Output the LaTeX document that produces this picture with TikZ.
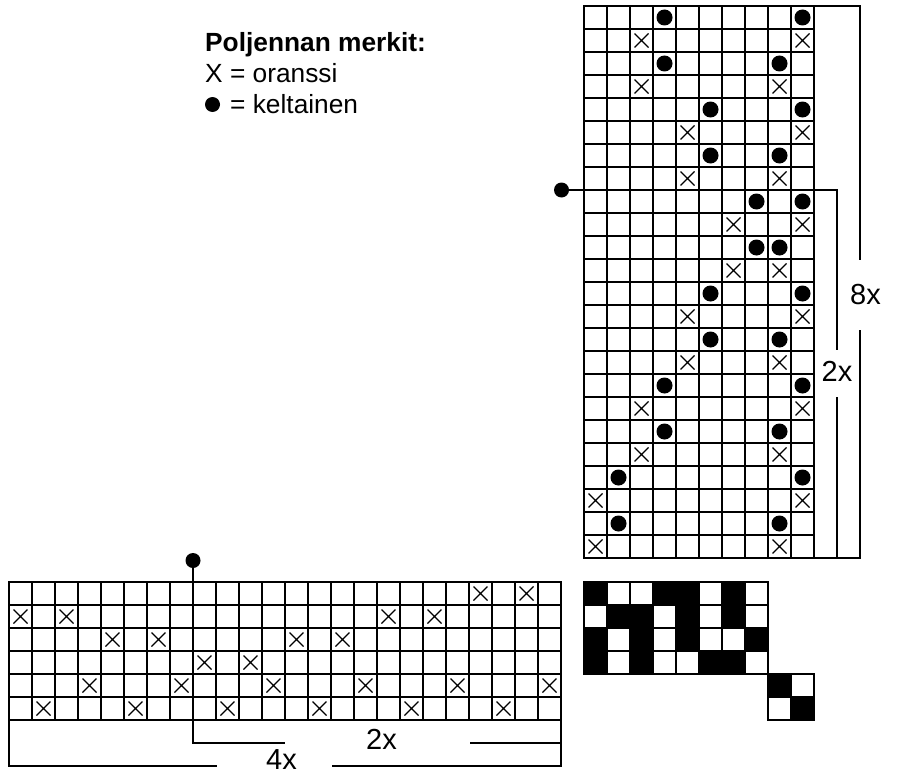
\documentclass[tikz,border=0pt]{standalone}
\usepackage{fontspec}
\setmainfont{Liberation Sans}
\usetikzlibrary{calc}
\tikzset{
    gridline/.style={line width=1.3pt},
    frameline/.style={line width=1.7pt},
    crossline/.style={line width=1.1pt},
    bracket/.style={line width=1.4pt},
    bigdot/.style={circle, fill=black, inner sep=0pt, minimum size=15pt},
    legend/.style={inner sep=0pt, anchor=base west, font=\fontsize{26.3}{30}\selectfont},
    repeatlabel/.style={inner sep=0pt, font=\fontsize{29}{34}\selectfont}
}
\newcommand{\weavegrid}[4]{% x0, y0, columns, rows
    \foreach \i in {0,...,#3} {
        \draw[gridline] ({#1+23*\i}, #2) -- ({#1+23*\i}, {#2+23*#4});
    }
    \foreach \j in {0,...,#4} {
        \draw[gridline] (#1, {#2+23*\j}) -- ({#1+23*#3}, {#2+23*\j});
    }
    \draw[frameline] (#1, #2) rectangle ({#1+23*#3}, {#2+23*#4});
}
\newcommand{\crossmark}[4]{% x0, y0, column, row
    \draw[crossline] ({#1+23*#3-18.5}, {#2+23*#4-18.5}) -- ++(14,14) ++(0,-14) -- ++(-14,14);
}
\newcommand{\dotmark}[4]{% x0, y0, column, row
    \fill ({#1+23*#3-11.5}, {#2+23*#4-11.5}) circle (8pt);
}

\begin{document}
\begin{tikzpicture}[x=1pt, y=-1pt]
    \useasboundingbox (0,0) rectangle (897,776);

    % Legend
    \node[legend, font=\fontsize{26.3}{30}\selectfont\bfseries] (legendtitle) at (205,52) {Poljennan merkit:};
    \node[legend] (legendx) at (205,83) {X = oranssi};
    \node[bigdot] (legenddot) at (212.5,104.5) {};
    \node[legend] (legendy) at (230,113) {= keltainen};

    % Threading grid (right)
    \weavegrid{584}{6}{10}{24}
    \foreach \c/\r in {4/1,10/1,4/3,9/3,6/5,10/5,6/7,9/7,8/9,10/9,8/11,9/11,
                       6/13,10/13,6/15,9/15,4/17,10/17,4/19,9/19,2/21,10/21,2/23,9/23} {
        \dotmark{584}{6}{\c}{\r}
    }
    \foreach \c/\r in {3/2,10/2,3/4,9/4,5/6,10/6,5/8,9/8,7/10,10/10,7/12,9/12,
                       5/14,10/14,5/16,9/16,3/18,10/18,3/20,9/20,1/22,10/22,1/24,9/24} {
        \crossmark{584}{6}{\c}{\r}
    }

    % Treadling grid (bottom)
    \weavegrid{9}{582}{24}{6}
    \foreach \c/\r in {21/1,23/1,1/2,3/2,17/2,19/2,5/3,7/3,13/3,15/3,9/4,11/4,
                       4/5,8/5,12/5,16/5,20/5,24/5,2/6,6/6,10/6,14/6,18/6,22/6} {
        \crossmark{9}{582}{\c}{\r}
    }

    % Tie-up
    \foreach \c/\r in {1/1,4/1,5/1,7/1,2/2,3/2,5/2,7/2,1/3,3/3,5/3,8/3,1/4,3/4,6/4,7/4,9/5,10/6} {
        \fill ({584+23*(\c-1)}, {582+23*(\r-1)}) rectangle ++(23,23);
    }
    \weavegrid{584}{582}{8}{4}
    \weavegrid{768}{674}{2}{2}

    % Repeat brackets, right
    \coordinate (r8a) at (814,6);
    \coordinate (r8b) at (860,260);
    \coordinate (r8c) at (860,330);
    \coordinate (r8d) at (814,558);
    \draw[bracket] (r8a) -| (r8b);
    \draw[bracket] (r8c) |- (r8d);
    \node[repeatlabel] (eightx) at (865.5,295) {8x};

    \node[bigdot] (dotright) at (561.5,190) {};
    \coordinate (r2a) at (837,350);
    \coordinate (r2b) at (837,397);
    \coordinate (r2c) at (837,558);
    \draw[bracket] (dotright.center) -| (r2a);
    \draw[bracket] (r2b) -- (r2c);
    \node[repeatlabel] (tworight) at (837,371) {2x};

    % Repeat brackets, bottom
    \node[bigdot] (dotbottom) at (193,560.5) {};
    \coordinate (b2top) at (193,582);
    \coordinate (b2a) at (193,720);
    \coordinate (b2b) at (285,743);
    \coordinate (b2c) at (470,743);
    \coordinate (b2d) at (561,720);
    \draw[bracket] (dotbottom.center) -- (b2top);
    \draw[bracket] (b2a) |- (b2b);
    \draw[bracket] (b2c) -| (b2d);
    \node[repeatlabel] (twobottom) at (381.5,739) {2x};

    \coordinate (b4a) at (9,720);
    \coordinate (b4b) at (217,766);
    \coordinate (b4c) at (332,766);
    \coordinate (b4d) at (561,720);
    \draw[bracket] (b4a) |- (b4b);
    \draw[bracket] (b4c) -| (b4d);
    \node[repeatlabel] (fourx) at (281.5,760) {4x};
\end{tikzpicture}
\end{document}
